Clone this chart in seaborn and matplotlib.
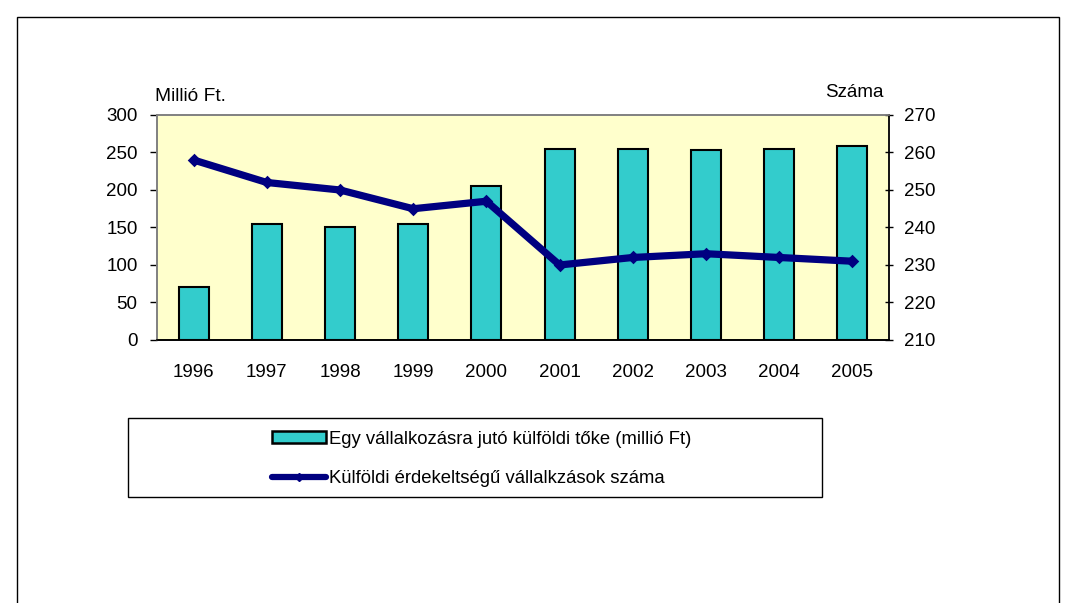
import matplotlib.pyplot as plt
import seaborn as sns
import numpy as np
from matplotlib.patches import Patch, Rectangle
from matplotlib.lines import Line2D

years = ["1996", "1997", "1998", "1999", "2000", "2001", "2002", "2003", "2004", "2005"]
capital = [70, 155, 150, 155, 205, 254, 255, 253, 254, 258]  # millió Ft
firms = [258, 252, 250, 245, 247, 230, 232, 233, 232, 231]  # száma

bar_label = "Egy vállalkozásra jutó külföldi tőke (millió Ft)"
line_label = "Külföldi érdekeltségű vállalkzások száma"

sns.set_style("white")
plt.rcParams["font.family"] = ["Liberation Sans", "DejaVu Sans"]
plt.rcParams["text.color"] = "black"
plt.rcParams["xtick.color"] = "black"
plt.rcParams["ytick.color"] = "black"

fig = plt.figure(figsize=(10.73, 6.03), dpi=100)
ax = fig.add_axes([0.1463, 0.4362, 0.6822, 0.3731])
ax.set_facecolor("#FFFFCC")

sns.barplot(x=years, y=capital, ax=ax, color="#33CCCC", edgecolor="black",
            linewidth=1.5, width=0.41, saturation=1)
ax.set_ylim(0, 300)
ax.set_yticks(np.arange(0, 301, 50))
ax.set_xlim(-0.5, len(years) - 0.5)

ax2 = ax.twinx()
sns.pointplot(x=years, y=firms, ax=ax2, color="#000080", marker="D",
              markersize=3, linewidth=5.2)
ax2.set_ylim(210, 270)
ax2.set_yticks(np.arange(210, 271, 10))
ax2.set_xlim(-0.5, len(years) - 0.5)

# tick marks sit between categories, labels in the middle
ax.set_xticks(np.arange(len(years)))
ax.set_xticklabels(years)
ax.set_xticks(np.arange(-0.5, len(years)), minor=True)
ax.tick_params(axis="x", which="major", length=0, labelsize=13.5, pad=17)
ax.tick_params(axis="x", which="minor", length=5, width=1, color="black", direction="out")
ax.tick_params(axis="y", length=5, width=1, color="black", direction="out",
               labelsize=13.5, left=True, pad=9)
ax2.tick_params(axis="y", length=6, width=1, color="black", direction="inout",
                labelsize=13.5, right=True, pad=8)

ax.set_xlabel("")
ax.set_ylabel("")
ax2.set_xlabel("")
ax2.set_ylabel("")

for a in (ax, ax2):
    for s in a.spines.values():
        s.set_color("#808080")
        s.set_linewidth(1.2)
ax.spines["bottom"].set_color("black")
ax2.spines["bottom"].set_color("black")
ax2.spines["right"].set_color("black")

fig.text(0.1445, 0.826, "Millió Ft.", fontsize=13.8, ha="left", va="bottom")
fig.text(0.8235, 0.832, "Száma", fontsize=13.5, ha="right", va="bottom")

# legend frame
fig.patches.append(Rectangle((128 / 1073, 1 - 497 / 603), 694 / 1073, 79 / 603,
                             transform=fig.transFigure, fill=False,
                             edgecolor="black", linewidth=1))
handles = [
    Patch(facecolor="#33CCCC", edgecolor="black", linewidth=1.8, label=bar_label),
    Line2D([0], [0], color="#000080", linewidth=4.5, marker="D", markersize=4, label=line_label),
]
fig.legend(handles=handles, loc="center", bbox_to_anchor=(0.449, 0.239),
           frameon=False, fontsize=13.3, handlelength=2.9, handleheight=0.6,
           handletextpad=0.15, labelspacing=1.2)

# outer border
fig.patches.append(Rectangle((17 / 1073, -0.05), (1059 - 17) / 1073, 1.05 - 17 / 603,
                             transform=fig.transFigure, fill=False,
                             edgecolor="black", linewidth=1))

fig.savefig("out.png", dpi=100)
